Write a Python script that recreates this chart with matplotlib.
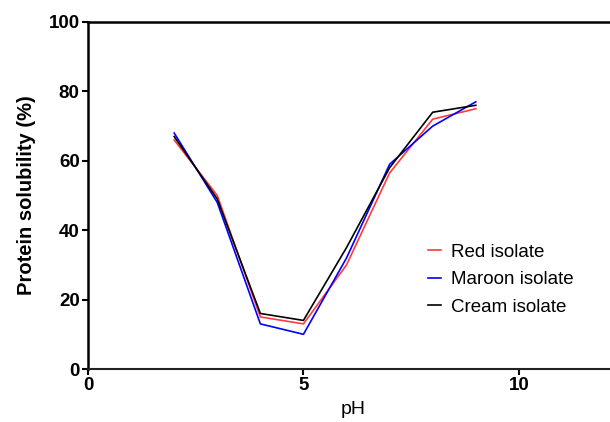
import matplotlib
matplotlib.use("Agg")
import matplotlib.pyplot as plt

plt.rcParams["font.family"] = ["Liberation Sans", "DejaVu Sans"]

ph = [2, 3, 4, 5, 6, 7, 8, 9]
red = [66, 50, 15, 13, 30, 56.5, 72, 75]
maroon = [68, 48, 13, 10, 32, 59, 70, 77]
cream = [67, 49, 16, 14, 35, 58, 74, 76]

fig = plt.figure(figsize=(6.1, 4.22), dpi=100)
ax = fig.add_axes([88 / 610, 53 / 422, 530 / 610, 347 / 422])

ax.plot(ph, red, color="#ff3b3b", lw=1.2, label="Red isolate")
ax.plot(ph, maroon, color="#0000ff", lw=1.2, label="Maroon isolate")
ax.plot(ph, cream, color="black", lw=1.2, label="Cream isolate")

ax.set_xlim(0, 12.3)
ax.set_ylim(0, 100)
ax.set_xticks([0, 5, 10])
ax.set_yticks([0, 20, 40, 60, 80, 100])
for lab in ax.get_xticklabels() + ax.get_yticklabels():
    lab.set_fontweight("bold")
ax.tick_params(labelsize=13.5, width=1.5, length=4, pad=2)

ax.spines["right"].set_visible(False)
ax.spines["left"].set_linewidth(1.8)
ax.spines["top"].set_linewidth(1.8)
ax.spines["bottom"].set_linewidth(1.5)
ax.spines["bottom"].set_color("#222222")

ax.set_xlabel("pH", fontsize=14, labelpad=5)
ax.set_ylabel("Protein solubility (%)", fontsize=14.5, fontweight="bold", labelpad=9)

ax.legend(loc="upper left", bbox_to_anchor=(0.61, 0.41), frameon=False,
          fontsize=13.5, handlelength=0.7, handletextpad=0.5, labelspacing=0.55)

fig.savefig("out.png", dpi=100)
